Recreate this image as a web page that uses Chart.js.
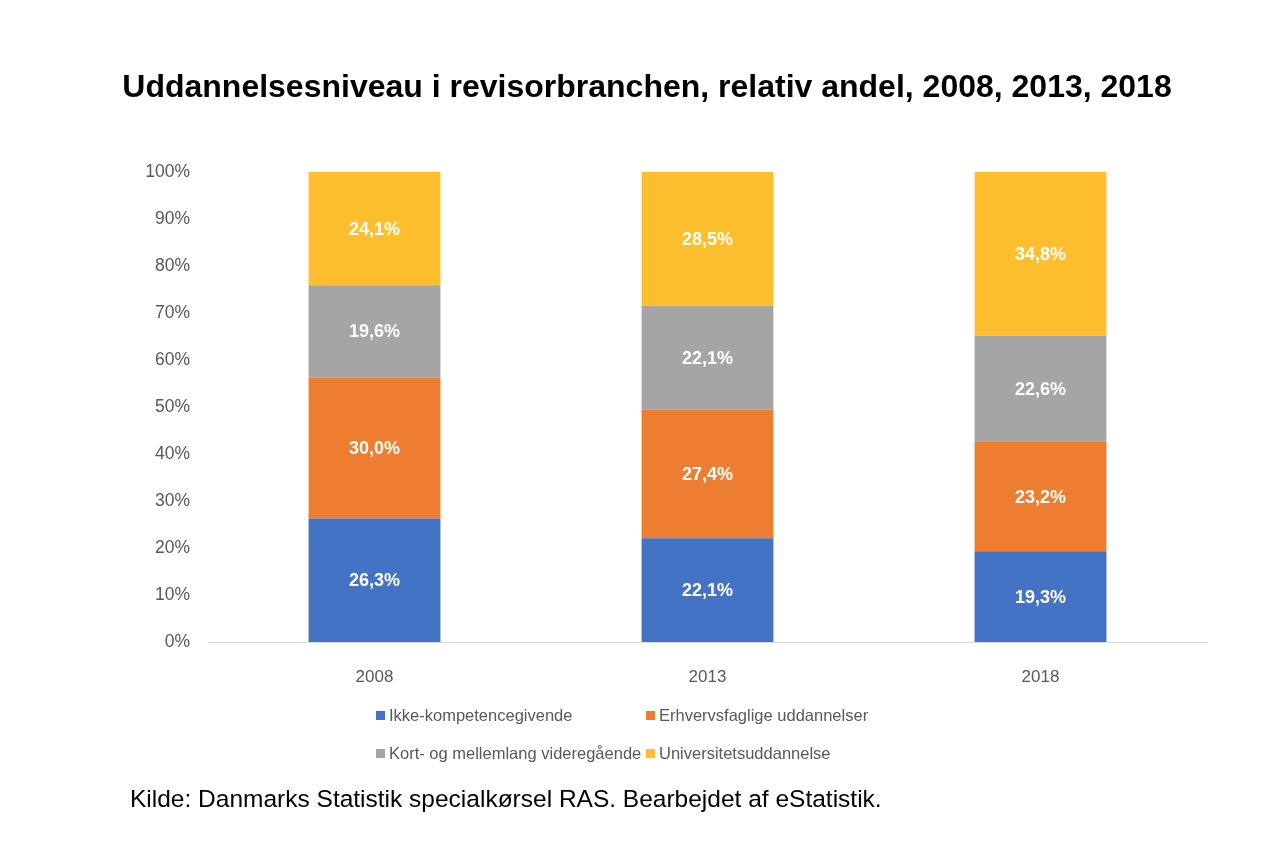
<!DOCTYPE html>
<html>
<head>
<meta charset="utf-8">
<script src="https://cdn.jsdelivr.net/npm/chart.js@4"></script>
<style>
  html, body { margin: 0; padding: 0; background: #fff; }
  #wrap { position: relative; width: 1276px; height: 862px; overflow: hidden; }
  #c { position: absolute; left: 0; top: 0; }
  #title { position: absolute; left: 9px; width: 1276px; top: 68px; text-align: center;
           font-family: "Liberation Sans", Arial, sans-serif; font-weight: bold; font-size: 32px; color: #000; }
  .leg { position: absolute; font-family: "Liberation Sans", Arial, sans-serif; font-size: 16.5px; color: #595959;
         white-space: nowrap; line-height: 18px; }
  .leg span.sw { display: inline-block; width: 9px; height: 9px; margin-right: 4px; vertical-align: 1px; }
  #src { position: absolute; left: 130px; top: 785px; font-family: "Liberation Sans", Arial, sans-serif;
         font-size: 24.5px; color: #000; white-space: nowrap; }
</style>
</head>
<body>
<div id="wrap">
  <canvas id="c" width="1276" height="862"></canvas>
  <div id="title">Uddannelsesniveau i revisorbranchen, relativ andel, 2008, 2013, 2018</div>
  <div id="legend"></div>
  <div id="src">Kilde: Danmarks Statistik specialkørsel RAS. Bearbejdet af eStatistik.</div>
</div>
<script>
const categories = ["2008", "2013", "2018"];
const seriesNames = ["Ikke-kompetencegivende", "Erhvervsfaglige uddannelser", "Kort- og mellemlang videregående", "Universitetsuddannelse"];
const ikkeKompetencegivende = [26.3, 22.1, 19.3];
const erhvervsfaglige = [30.0, 27.4, 23.2];
const kortMellemlang = [19.6, 22.1, 22.6];
const universitet = [24.1, 28.5, 34.8];
const yTicks = [0, 10, 20, 30, 40, 50, 60, 70, 80, 90, 100];
const colors = ["#4472C4", "#ED7D31", "#A5A5A5", "#FDBF2D"];

const seriesValues = [ikkeKompetencegivende, erhvervsfaglige, kortMellemlang, universitet];
// 100% stacked: each column is scaled to its own total
const totals = categories.map((_, j) => seriesValues.reduce((s, arr) => s + arr[j], 0));

const fmt = v => v.toFixed(1).replace('.', ',') + '%';
const FONT = '"Liberation Sans", Arial, sans-serif';

const labelPlugin = {
  id: 'segLabels',
  afterDatasetsDraw(chart) {
    const ctx = chart.ctx;
    ctx.save();
    ctx.font = 'bold 18px ' + FONT;
    ctx.fillStyle = '#ffffff';
    ctx.textAlign = 'center';
    ctx.textBaseline = 'middle';
    chart.data.datasets.forEach((ds, i) => {
      const meta = chart.getDatasetMeta(i);
      meta.data.forEach((bar, j) => {
        const top = Math.min(bar.y, bar.base), bot = Math.max(bar.y, bar.base);
        ctx.fillText(fmt(seriesValues[i][j]), bar.x, (top + bot) / 2 + 1);
      });
    });
    ctx.restore();
  }
};

new Chart(document.getElementById('c'), {
  type: 'bar',
  data: {
    labels: categories,
    datasets: seriesNames.map((n, i) => ({
      label: n,
      data: seriesValues[i].map((v, j) => v / totals[j] * 100),
      backgroundColor: colors[i],
      borderWidth: 0,
      barPercentage: 0.396,
      categoryPercentage: 1.0
    }))
  },
  options: {
    responsive: false,
    animation: false,
    devicePixelRatio: 1,
    layout: { padding: { left: 108, right: 69, top: 172, bottom: 180 } },
    plugins: { legend: { display: false }, tooltip: { enabled: false }, title: { display: false } },
    scales: {
      x: {
        stacked: true,
        grid: { display: false },
        border: { display: true, color: '#D9D9D9', width: 1 },
        ticks: { color: '#595959', font: { family: FONT, size: 17 }, padding: 17 },
        afterFit(s) { s.height = 40; }
      },
      y: {
        stacked: true,
        min: 0, max: 100,
        grid: { display: false, drawTicks: false },
        border: { display: false },
        afterBuildTicks(s) { s.ticks = yTicks.map(v => ({ value: v })); },
        ticks: {
          color: '#595959',
          font: { family: FONT, size: 17.5 },
          padding: 18,
          callback: v => v + '%'
        },
        afterFit(s) { s.width = 100; }
      }
    }
  },
  plugins: [labelPlugin]
});

// HTML legend, 2 columns x 2 rows
const legend = document.getElementById('legend');
const legPos = [[376, 706], [646, 706], [376, 744], [646, 744]];
seriesNames.forEach((n, i) => {
  const d = document.createElement('div');
  d.className = 'leg';
  d.style.left = legPos[i][0] + 'px';
  d.style.top = legPos[i][1] + 'px';
  d.innerHTML = '<span class="sw" style="background:' + colors[i] + '"></span>' + n;
  legend.appendChild(d);
});
</script>
</body>
</html>
